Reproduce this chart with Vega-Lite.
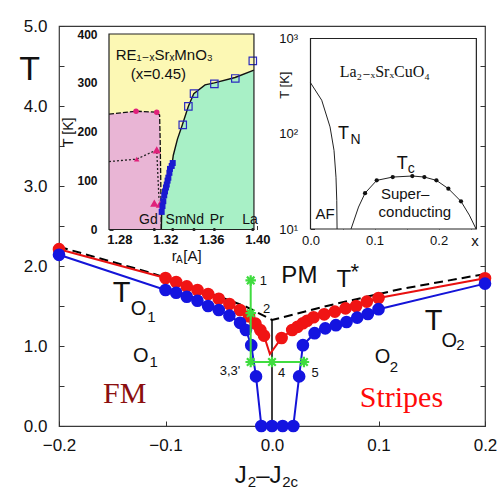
{
  "$schema": "https://vega.github.io/schema/vega-lite/v6.json",
  "width": 426,
  "height": 400,
  "autosize": {"type": "none"},
  "padding": {"left": 59, "top": 26, "right": 14, "bottom": 74},
  "background": "#ffffff",
  "config": {
    "font": "Liberation Sans",
    "view": {"stroke": "#3a3a3a", "strokeWidth": 1.2},
    "axis": {"grid": false, "domain": false, "labelOverlap": false, "labelFlush": false, "zindex": 1, "labelFont": "Liberation Sans", "titleFont": "Liberation Sans", "labelColor": "#111", "titleColor": "#111", "tickColor": "#333"}
  },
  "datasets": {
    "tstar": [{"x": -0.2, "y": 2.24}, {"x": -0.115, "y": 1.92}, {"x": -0.068, "y": 1.71}, {"x": -0.024, "y": 1.49}, {"x": 0, "y": 1.325}, {"x": 0.048, "y": 1.49}, {"x": 0.12, "y": 1.71}, {"x": 0.2, "y": 1.9}],
    "vline": [{"x": 0, "x2": 0, "y": 0, "y2": 1.325}],
    "red": [
      {"x": -0.2, "y": 2.21}, {"x": -0.1, "y": 1.85}, {"x": -0.09, "y": 1.8}, {"x": -0.08, "y": 1.745}, {"x": -0.07, "y": 1.7}, {"x": -0.06, "y": 1.65}, {"x": -0.05, "y": 1.59}, {"x": -0.04, "y": 1.525}, {"x": -0.03, "y": 1.45}, {"x": -0.0215, "y": 1.37}, {"x": -0.0155, "y": 1.28}, {"x": -0.011, "y": 1.2}, {"x": -0.0075, "y": 1.13},
      {"x": 0.009, "y": 1.1}, {"x": 0.019, "y": 1.2}, {"x": 0.024, "y": 1.24}, {"x": 0.029, "y": 1.284}, {"x": 0.033, "y": 1.316}, {"x": 0.039, "y": 1.359}, {"x": 0.049, "y": 1.396}, {"x": 0.059, "y": 1.43}, {"x": 0.069, "y": 1.47}, {"x": 0.079, "y": 1.5}, {"x": 0.089, "y": 1.555}, {"x": 0.1, "y": 1.6}, {"x": 0.2, "y": 1.846}
    ],
    "redLine": [
      {"x": -0.2, "y": 2.21}, {"x": -0.1, "y": 1.85}, {"x": -0.09, "y": 1.8}, {"x": -0.08, "y": 1.745}, {"x": -0.07, "y": 1.7}, {"x": -0.06, "y": 1.65}, {"x": -0.05, "y": 1.59}, {"x": -0.04, "y": 1.525}, {"x": -0.03, "y": 1.45}, {"x": -0.0215, "y": 1.37}, {"x": -0.0155, "y": 1.28}, {"x": -0.011, "y": 1.2}, {"x": -0.0075, "y": 1.13},
      {"x": -0.002, "y": 0.9},
      {"x": 0.009, "y": 1.1}, {"x": 0.019, "y": 1.2}, {"x": 0.024, "y": 1.24}, {"x": 0.029, "y": 1.284}, {"x": 0.033, "y": 1.316}, {"x": 0.039, "y": 1.359}, {"x": 0.049, "y": 1.396}, {"x": 0.059, "y": 1.43}, {"x": 0.069, "y": 1.47}, {"x": 0.079, "y": 1.5}, {"x": 0.089, "y": 1.555}, {"x": 0.1, "y": 1.6}, {"x": 0.2, "y": 1.846}
    ],
    "blue": [
      {"x": -0.2, "y": 2.14}, {"x": -0.1, "y": 1.7}, {"x": -0.09, "y": 1.666}, {"x": -0.08, "y": 1.616}, {"x": -0.07, "y": 1.566}, {"x": -0.06, "y": 1.5}, {"x": -0.05, "y": 1.45}, {"x": -0.04, "y": 1.38}, {"x": -0.03, "y": 1.29}, {"x": -0.0245, "y": 1.2}, {"x": -0.0195, "y": 1.01}, {"x": -0.015, "y": 0.62},
      {"x": -0.01, "y": 0}, {"x": 0, "y": 0}, {"x": 0.01, "y": 0}, {"x": 0.02, "y": 0},
      {"x": 0.0255, "y": 0.62}, {"x": 0.029, "y": 1.01}, {"x": 0.04, "y": 1.16}, {"x": 0.05, "y": 1.22}, {"x": 0.06, "y": 1.26}, {"x": 0.07, "y": 1.3}, {"x": 0.08, "y": 1.355}, {"x": 0.09, "y": 1.4}, {"x": 0.1, "y": 1.46}, {"x": 0.2, "y": 1.78}
    ],
    "greenRules": [{"x": -0.02, "x2": -0.02, "y": 1.82, "y2": 0.8}, {"x": -0.02, "x2": 0.03, "y": 0.8, "y2": 0.8}],
    "greenStars": [{"x": -0.02, "y": 1.82}, {"x": -0.02, "y": 1.41}, {"x": -0.02, "y": 0.8}, {"x": 0, "y": 0.8}, {"x": 0.03, "y": 0.8}],
    "starLabels": [{"x": -0.0115, "y": 1.7625, "t": "1"}, {"x": -0.0085, "y": 1.409, "t": "2"}, {"x": -0.0491, "y": 0.6375, "t": "3,3'"}, {"x": 0.0056, "y": 0.616, "t": "4"}, {"x": 0.037, "y": 0.609, "t": "5"}],
    "mainT": [{"x": -0.2275, "y": 4.45, "t": "T"}],
    "capT": [{"x": -0.1496, "y": 1.554, "t": "T"}, {"x": 0.1434, "y": 1.2, "t": "T"}],
    "medText": [{"x": 0.0088, "y": 1.784, "t": "PM"}, {"x": 0.0605, "y": 1.741, "t": "T"}, {"x": -0.035, "y": -0.7125, "t": "J"}, {"x": -0.0148, "y": -0.7125, "t": "–J"}],
    "oText": [{"x": -0.1327, "y": 1.3875, "t": "O"}, {"x": 0.1591, "y": 0.991, "t": "O"}, {"x": -0.1305, "y": 0.804, "t": "O"}, {"x": 0.0964, "y": 0.784, "t": "O"}],
    "subText": [{"x": -0.1172, "y": 1.304, "t": "1"}, {"x": 0.1731, "y": 0.95, "t": "2"}, {"x": -0.1150, "y": 0.734, "t": "1"}, {"x": 0.1105, "y": 0.679, "t": "2"}, {"x": -0.0228, "y": -0.7625, "t": "2"}, {"x": 0.0096, "y": -0.7625, "t": "2c"}],
    "asterisk": [{"x": 0.0777, "y": 1.835, "t": "*"}],
    "fm": [{"x": -0.1587, "y": 0.284, "t": "FM"}],
    "stripes": [{"x": 0.0824, "y": 0.242, "t": "Stripes"}],

    "in1Frame": [{"x": 1.271, "x2": 1.397, "y": 0, "y2": 400}],
    "pinkArea": [{"x": 1.271, "y": 236}, {"x": 1.2945, "y": 242}, {"x": 1.3125, "y": 240}, {"x": 1.315, "y": 234}, {"x": 1.3155, "y": 180}, {"x": 1.316, "y": 100}, {"x": 1.3165, "y": 0}],
    "greenArea": [{"x": 1.3165, "y": 0}, {"x": 1.3168, "y": 38}, {"x": 1.3197, "y": 74}, {"x": 1.3226, "y": 101}, {"x": 1.3255, "y": 128}, {"x": 1.3269, "y": 152}, {"x": 1.3305, "y": 185}, {"x": 1.3347, "y": 214}, {"x": 1.34, "y": 252}, {"x": 1.3447, "y": 278}, {"x": 1.3545, "y": 296}, {"x": 1.3626, "y": 300}, {"x": 1.3806, "y": 311}, {"x": 1.397, "y": 326}],
    "pinkCircles": [{"x": 1.2945, "y": 242}, {"x": 1.3125, "y": 240}],
    "pinkTriBig": [{"x": 1.3125, "y": 163}, {"x": 1.3104, "y": 54}, {"x": 1.3153, "y": 52}],
    "pinkTriSmall": [{"x": 1.2951, "y": 144}],
    "dotted": [{"x": 1.271, "y": 139}, {"x": 1.2951, "y": 144}, {"x": 1.3125, "y": 163}, {"x": 1.3135, "y": 110}, {"x": 1.3145, "y": 60}],
    "openSq": [{"x": 1.3351, "y": 214}, {"x": 1.34, "y": 252}, {"x": 1.3449, "y": 278}, {"x": 1.3626, "y": 298}, {"x": 1.3808, "y": 309}, {"x": 1.396, "y": 345}],
    "fillSq": [{"x": 1.3168, "y": 36}, {"x": 1.3175, "y": 48}, {"x": 1.3182, "y": 58}, {"x": 1.319, "y": 70}, {"x": 1.3197, "y": 78}, {"x": 1.3205, "y": 86}, {"x": 1.3212, "y": 92}, {"x": 1.3219, "y": 100}, {"x": 1.3226, "y": 106}, {"x": 1.3235, "y": 116}, {"x": 1.324, "y": 124}, {"x": 1.3255, "y": 130}, {"x": 1.3264, "y": 136}],
    "elemDots": [{"x": 1.3104, "y": 0}, {"x": 1.3264, "y": 0}, {"x": 1.3449, "y": 0}, {"x": 1.3626, "y": 0}, {"x": 1.396, "y": 0}],
    "elemLabels": [{"x": 1.3052, "y": 19, "t": "Gd"}, {"x": 1.3293, "y": 19, "t": "Sm"}, {"x": 1.3458, "y": 19, "t": "Nd"}, {"x": 1.3647, "y": 19, "t": "Pr"}, {"x": 1.3936, "y": 19, "t": "La"}],
    "in1Title": [{"x": 1.2768, "y": 357, "t": "RE₁₋ₓSrₓMnO₃"}],
    "in1Sub": [{"x": 1.3139, "y": 319, "t": "(x=0.45)"}],
    "rA1": [{"x": 1.3255, "y": -54, "t": "r"}, {"x": 1.3356, "y": -54, "t": "[A]"}],
    "rA2": [{"x": 1.3293, "y": -62, "t": "A"}],

    "in2Frame": [{"x": 0, "x2": 0.259, "y": 10, "y2": 1000}],
    "tn": [{"x": 0, "y": 343}, {"x": 0.0175, "y": 225}, {"x": 0.0305, "y": 118}, {"x": 0.0367, "y": 67}, {"x": 0.0398, "y": 35}, {"x": 0.041, "y": 20}, {"x": 0.0415, "y": 10}],
    "tc": [{"x": 0.0633, "y": 10}, {"x": 0.075, "y": 17}, {"x": 0.0852, "y": 23.8}, {"x": 0.1034, "y": 32.4}, {"x": 0.1284, "y": 35.1}, {"x": 0.159, "y": 36}, {"x": 0.1778, "y": 35.1}, {"x": 0.1966, "y": 32.4}, {"x": 0.2153, "y": 26.5}, {"x": 0.235, "y": 19.5}, {"x": 0.248, "y": 14}, {"x": 0.2586, "y": 10}],
    "tcDots": [{"x": 0.0852, "y": 23.8}, {"x": 0.1034, "y": 32.4}, {"x": 0.1284, "y": 35.1}, {"x": 0.159, "y": 36}, {"x": 0.1778, "y": 35.1}, {"x": 0.1966, "y": 32.4}, {"x": 0.2153, "y": 26.5}, {"x": 0.235, "y": 19.5}],
    "in2Serif": [{"x": 0.116, "y": 448, "t": "La₂₋ₓSrₓCuO₄"}],
    "in2T": [{"x": 0.043, "y": 100, "t": "T"}, {"x": 0.1347, "y": 47.7, "t": "T"}],
    "in2Sub": [{"x": 0.0625, "y": 85.5, "t": "N"}, {"x": 0.152, "y": 42.3, "t": "c"}],
    "in2Words": [{"x": 0.1477, "y": 23.5, "t": "Super–"}, {"x": 0.163, "y": 15, "t": "conducting"}, {"x": 0.0227, "y": 14.2, "t": "AF"}, {"x": 0.257, "y": 7.57, "t": "x"}],
    "in2Ylab": [{"x": -0.0398, "y": 324, "t": "T [K]"}]
  },
  "resolve": {"scale": {"x": "independent", "y": "independent"}},
  "layer": [
    {
      "encoding": {
        "x": {"field": "x", "type": "quantitative", "scale": {"domain": [-0.2, 0.2], "nice": false, "zero": false},
              "axis": {"orient": "bottom", "title": null, "values": [-0.2, -0.1, 0, 0.1, 0.2], "format": ".1f", "tickSize": -5, "labelFontSize": 17, "labelPadding": 16}},
        "y": {"field": "y", "type": "quantitative", "scale": {"domain": [0, 5], "nice": false, "zero": false},
              "axis": {"orient": "left", "title": null, "values": [0, 0.5, 1, 1.5, 2, 2.5, 3, 3.5, 4, 4.5, 5], "labelExpr": "datum.value % 1 === 0 ? format(datum.value, '.1f') : ''", "tickSize": -5, "labelFontSize": 17, "labelPadding": 17}}
      },
      "layer": [
        {"data": {"name": "tstar"}, "mark": {"type": "line", "color": "#000000", "strokeWidth": 2, "strokeDash": [9, 5]}},
        {"data": {"name": "vline"}, "mark": {"type": "rule", "color": "#000000", "strokeWidth": 1.5}, "encoding": {"x2": {"field": "x2"}, "y2": {"field": "y2"}}},
        {"data": {"name": "redLine"}, "mark": {"type": "line", "color": "#e81010", "strokeWidth": 2}},
        {"data": {"name": "blue"}, "mark": {"type": "line", "color": "#1414d8", "strokeWidth": 2}},
        {"data": {"name": "red"}, "mark": {"type": "point", "shape": "circle", "filled": true, "color": "#f01414", "opacity": 1, "size": 160}},
        {"data": {"name": "blue"}, "mark": {"type": "point", "shape": "circle", "filled": true, "color": "#1414e0", "opacity": 1, "size": 160}},
        {"data": {"name": "greenRules"}, "mark": {"type": "rule", "color": "#3fdc3f", "strokeWidth": 2}, "encoding": {"x2": {"field": "x2"}, "y2": {"field": "y2"}}},
        {"data": {"name": "greenStars"}, "mark": {"type": "point", "shape": "M-1,0L1,0M0,-1L0,1M-0.72,-0.72L0.72,0.72M-0.72,0.72L0.72,-0.72", "filled": false, "stroke": "#3fdc3f", "strokeWidth": 2.2, "opacity": 1, "size": 110}},
        {"data": {"name": "starLabels"}, "mark": {"type": "text", "fontSize": 13, "align": "left", "baseline": "alphabetic", "color": "#111"}, "encoding": {"text": {"field": "t"}}},
        {"data": {"name": "mainT"}, "mark": {"type": "text", "fontSize": 34, "align": "center", "baseline": "middle", "color": "#111"}, "encoding": {"text": {"field": "t"}}},
        {"data": {"name": "capT"}, "mark": {"type": "text", "fontSize": 29, "align": "left", "baseline": "alphabetic", "color": "#111"}, "encoding": {"text": {"field": "t"}}},
        {"data": {"name": "medText"}, "mark": {"type": "text", "fontSize": 24, "align": "left", "baseline": "alphabetic", "color": "#111"}, "encoding": {"text": {"field": "t"}}},
        {"data": {"name": "oText"}, "mark": {"type": "text", "fontSize": 20, "align": "left", "baseline": "alphabetic", "color": "#111"}, "encoding": {"text": {"field": "t"}}},
        {"data": {"name": "subText"}, "mark": {"type": "text", "fontSize": 15, "align": "left", "baseline": "alphabetic", "color": "#111"}, "encoding": {"text": {"field": "t"}}},
        {"data": {"name": "asterisk"}, "mark": {"type": "text", "fontSize": 22, "align": "center", "baseline": "alphabetic", "color": "#111"}, "encoding": {"text": {"field": "t"}}}
      ]
    },
    {
      "encoding": {
        "x": {"field": "x", "type": "quantitative", "scale": {"domain": [1.271, 1.4], "range": [50, 198.4], "nice": false, "zero": false},
              "axis": {"orient": "bottom", "offset": -196.5, "title": null, "values": [1.28, 1.29, 1.3, 1.31, 1.32, 1.33, 1.34, 1.35, 1.36, 1.37, 1.38, 1.39, 1.4], "labelExpr": "indexof(['1.28', '1.32', '1.36', '1.40'], format(datum.value, '.2f')) >= 0 ? format(datum.value, '.2f') : ''", "tickSize": -4, "labelFontSize": 13, "labelFontWeight": "bold", "labelPadding": 8}},
        "y": {"field": "y", "type": "quantitative", "scale": {"domain": [0, 400], "range": [203.5, 8], "nice": false, "zero": false},
              "axis": {"orient": "left", "offset": -50, "title": "T [K]", "titleFontSize": 14, "titleFontWeight": "normal", "titlePadding": 1, "values": [0, 20, 40, 60, 80, 100, 120, 140, 160, 180, 200, 220, 240, 260, 280, 300, 320, 340, 360, 380, 400], "labelExpr": "datum.value % 100 === 0 ? datum.label : ''", "tickSize": -4, "labelFontSize": 12, "labelFontWeight": "bold", "labelPadding": 16}}
      },
      "layer": [
        {"data": {"name": "in1Frame"}, "mark": {"type": "rect", "fill": "#fcf8b4", "stroke": null}, "encoding": {"x2": {"field": "x2"}, "y2": {"field": "y2"}}},
        {"data": {"name": "pinkArea"}, "mark": {"type": "area", "color": "#e9b5d5", "opacity": 1}},
        {"data": {"name": "greenArea"}, "mark": {"type": "area", "color": "#a8f0c6", "opacity": 1}},
        {"data": {"name": "pinkArea"}, "mark": {"type": "line", "color": "#111", "strokeWidth": 1.3, "strokeDash": [5, 2]}},
        {"data": {"name": "greenArea"}, "mark": {"type": "line", "color": "#111", "strokeWidth": 1.4}},
        {"data": {"name": "dotted"}, "mark": {"type": "line", "color": "#222", "strokeWidth": 1.3, "strokeDash": [2, 2]}},
        {"data": {"name": "pinkCircles"}, "mark": {"type": "point", "shape": "circle", "filled": true, "color": "#e0207a", "opacity": 1, "size": 30}},
        {"data": {"name": "pinkTriBig"}, "mark": {"type": "point", "shape": "triangle-up", "filled": true, "color": "#e0207a", "opacity": 1, "size": 70}},
        {"data": {"name": "pinkTriSmall"}, "mark": {"type": "point", "shape": "triangle-up", "filled": true, "color": "#e0207a", "opacity": 1, "size": 30}},
        {"data": {"name": "openSq"}, "mark": {"type": "point", "shape": "square", "filled": false, "stroke": "#2a2ac0", "strokeWidth": 1.2, "opacity": 1, "size": 55}},
        {"data": {"name": "fillSq"}, "mark": {"type": "point", "shape": "square", "filled": true, "color": "#1a1ad0", "opacity": 1, "size": 36}},
        {"data": {"name": "elemDots"}, "mark": {"type": "point", "shape": "circle", "filled": true, "color": "#111", "opacity": 1, "size": 10}},
        {"data": {"name": "elemLabels"}, "mark": {"type": "text", "fontSize": 14, "align": "center", "baseline": "middle", "color": "#111"}, "encoding": {"text": {"field": "t"}}},
        {"data": {"name": "in1Title"}, "mark": {"type": "text", "font": "Liberation Sans, DejaVu Sans", "fontSize": 15, "align": "left", "baseline": "middle", "color": "#111"}, "encoding": {"text": {"field": "t"}}},
        {"data": {"name": "in1Sub"}, "mark": {"type": "text", "fontSize": 15, "align": "center", "baseline": "middle", "color": "#111"}, "encoding": {"text": {"field": "t"}}},
        {"data": {"name": "rA1"}, "mark": {"type": "text", "fontSize": 15, "align": "left", "baseline": "middle", "color": "#111"}, "encoding": {"text": {"field": "t"}}},
        {"data": {"name": "rA2"}, "mark": {"type": "text", "fontSize": 10, "align": "left", "baseline": "middle", "color": "#111"}, "encoding": {"text": {"field": "t"}}},
        {"data": {"name": "in1Frame"}, "mark": {"type": "rect", "fillOpacity": 0, "stroke": "#222", "strokeWidth": 1.2}, "encoding": {"x2": {"field": "x2"}, "y2": {"field": "y2"}}}
      ]
    },
    {
      "encoding": {
        "x": {"field": "x", "type": "quantitative", "scale": {"domain": [0, 0.26], "range": [251.5, 418], "nice": false, "zero": false},
              "axis": {"orient": "bottom", "offset": -197, "title": null, "values": [0, 0.05, 0.1, 0.15, 0.2, 0.25], "labelExpr": "round(datum.value * 100) % 10 === 0 ? format(datum.value, '.1f') : ''", "tickSize": -4, "labelFontSize": 13, "labelPadding": 9}},
        "y": {"field": "y", "type": "quantitative", "scale": {"type": "log", "domain": [10, 1000], "range": [203, 12.5], "nice": false},
              "axis": {"orient": "left", "offset": -251.5, "title": null, "values": [10, 20, 30, 40, 50, 60, 70, 80, 90, 100, 200, 300, 400, 500, 600, 700, 800, 900, 1000], "labelExpr": "datum.value === 10 ? '10¹' : datum.value === 100 ? '10²' : datum.value === 1000 ? '10³' : ''", "tickSize": -4, "labelFontSize": 13, "labelPadding": 17}}
      },
      "layer": [
        {"data": {"name": "in2Frame"}, "mark": {"type": "rect", "fill": "#ffffff", "stroke": null}, "encoding": {"x2": {"field": "x2"}, "y2": {"field": "y2"}}},
        {"data": {"name": "tn"}, "mark": {"type": "line", "color": "#222", "strokeWidth": 1}},
        {"data": {"name": "tc"}, "mark": {"type": "line", "color": "#222", "strokeWidth": 1}},
        {"data": {"name": "tcDots"}, "mark": {"type": "point", "shape": "circle", "filled": true, "color": "#111", "opacity": 1, "size": 18}},
        {"data": {"name": "in2Serif"}, "mark": {"type": "text", "font": "Liberation Serif, DejaVu Serif", "fontSize": 16, "align": "center", "baseline": "middle", "color": "#111"}, "encoding": {"text": {"field": "t"}}},
        {"data": {"name": "in2T"}, "mark": {"type": "text", "fontSize": 18, "align": "left", "baseline": "middle", "color": "#111"}, "encoding": {"text": {"field": "t"}}},
        {"data": {"name": "in2Sub"}, "mark": {"type": "text", "fontSize": 14, "align": "left", "baseline": "middle", "color": "#111"}, "encoding": {"text": {"field": "t"}}},
        {"data": {"name": "in2Words"}, "mark": {"type": "text", "fontSize": 15, "align": "center", "baseline": "middle", "color": "#111"}, "encoding": {"text": {"field": "t"}}},
        {"data": {"name": "in2Ylab"}, "mark": {"type": "text", "fontSize": 13, "angle": 270, "align": "center", "baseline": "middle", "color": "#111"}, "encoding": {"text": {"field": "t"}}},
        {"data": {"name": "in2Frame"}, "mark": {"type": "rect", "fillOpacity": 0, "stroke": "#222", "strokeWidth": 1.2}, "encoding": {"x2": {"field": "x2"}, "y2": {"field": "y2"}}}
      ]
    },
    {
      "encoding": {
        "x": {"field": "x", "type": "quantitative", "scale": {"domain": [-0.2, 0.2], "nice": false, "zero": false}, "axis": null},
        "y": {"field": "y", "type": "quantitative", "scale": {"domain": [0, 5], "nice": false, "zero": false},
              "axis": {"orient": "right", "title": null, "values": [0, 0.5, 1, 1.5, 2, 2.5, 3, 3.5, 4, 4.5, 5], "labels": false, "tickSize": -5}}
      },
      "layer": [
        {"data": {"name": "fm"}, "mark": {"type": "text", "font": "Liberation Serif", "fontSize": 30, "align": "left", "baseline": "alphabetic", "color": "#8b0f0f"}, "encoding": {"text": {"field": "t"}}},
        {"data": {"name": "stripes"}, "mark": {"type": "text", "font": "Liberation Serif", "fontSize": 30, "align": "left", "baseline": "alphabetic", "color": "#ff0a0a"}, "encoding": {"text": {"field": "t"}}}
      ]
    }
  ]
}
